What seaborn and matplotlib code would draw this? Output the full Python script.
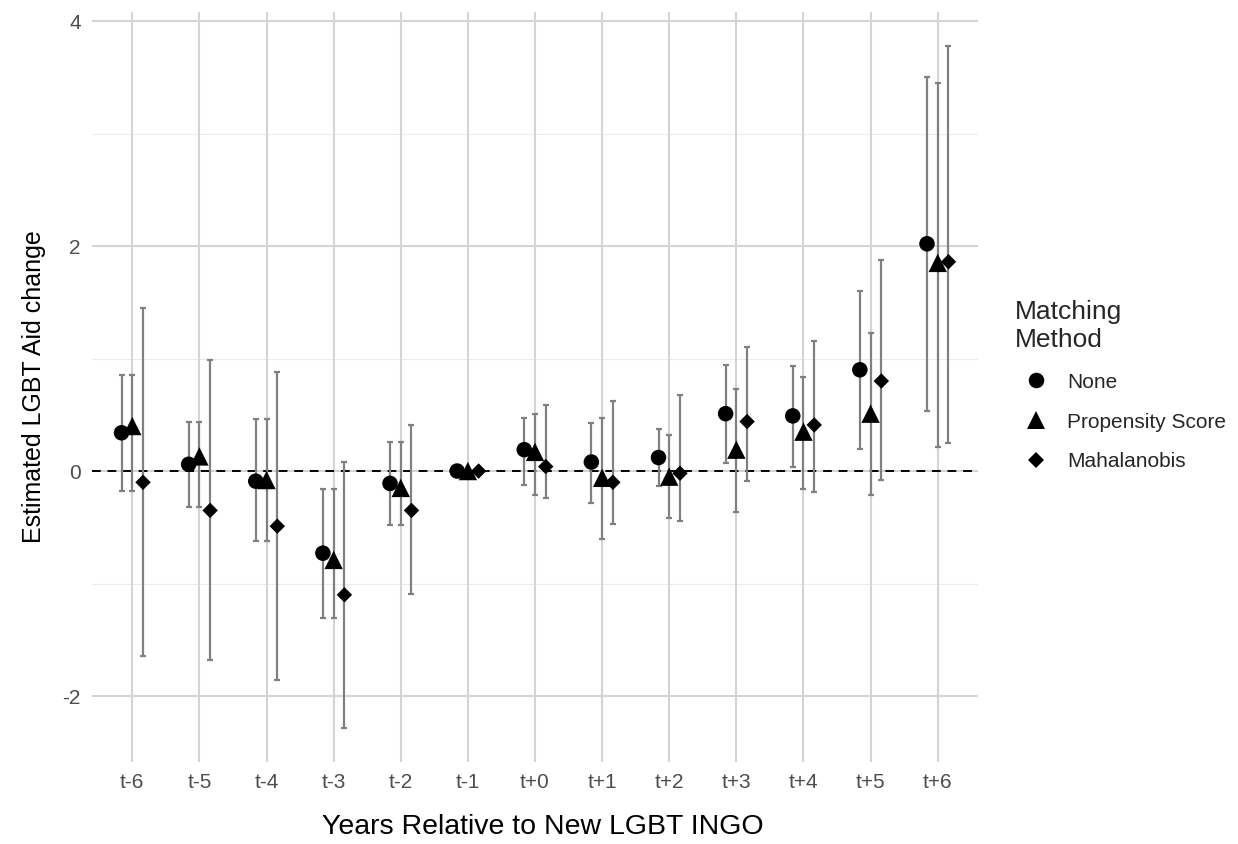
import matplotlib
matplotlib.use("Agg")
import matplotlib.pyplot as plt
import numpy as np
import pandas as pd
import seaborn as sns

periods = ["t-6", "t-5", "t-4", "t-3", "t-2", "t-1",
           "t+0", "t+1", "t+2", "t+3", "t+4", "t+5", "t+6"]
methods = ["None", "Propensity Score", "Mahalanobis"]

none_est = [0.34, 0.06, -0.09, -0.73, -0.11, 0.0, 0.19, 0.08, 0.12, 0.51, 0.49, 0.90, 2.02]
none_lo = [-0.18, -0.32, -0.62, -1.31, -0.48, 0.0, -0.12, -0.28, -0.13, 0.07, 0.04, 0.20, 0.53]
none_hi = [0.85, 0.44, 0.46, -0.16, 0.26, 0.0, 0.47, 0.43, 0.37, 0.94, 0.93, 1.60, 3.50]

ps_est = [0.40, 0.13, -0.08, -0.79, -0.15, 0.0, 0.17, -0.06, -0.05, 0.19, 0.35, 0.51, 1.85]
ps_lo = [-0.18, -0.32, -0.62, -1.31, -0.48, 0.0, -0.21, -0.60, -0.42, -0.36, -0.16, -0.21, 0.21]
ps_hi = [0.85, 0.44, 0.46, -0.16, 0.26, 0.0, 0.51, 0.47, 0.32, 0.73, 0.84, 1.23, 3.45]

mah_est = [-0.10, -0.35, -0.49, -1.10, -0.35, 0.0, 0.04, -0.10, -0.02, 0.44, 0.41, 0.80, 1.86]
mah_lo = [-1.64, -1.68, -1.86, -2.28, -1.09, 0.0, -0.24, -0.47, -0.44, -0.09, -0.19, -0.08, 0.25]
mah_hi = [1.45, 0.99, 0.88, 0.08, 0.41, 0.0, 0.59, 0.62, 0.68, 1.10, 1.16, 1.88, 3.78]

frames = []
for m, est, lo, hi in [
    ("None", none_est, none_lo, none_hi),
    ("Propensity Score", ps_est, ps_lo, ps_hi),
    ("Mahalanobis", mah_est, mah_lo, mah_hi),
]:
    frames.append(pd.DataFrame({"period": periods, "method": m,
                                "est": est, "lo": lo, "hi": hi}))
df = pd.concat(frames, ignore_index=True)

# dodge positions
offsets = {"None": -0.16, "Propensity Score": 0.0, "Mahalanobis": 0.16}
df["xpos"] = df["period"].map({p: i for i, p in enumerate(periods)}) + df["method"].map(offsets)

sns.set_theme(style="white")
plt.rcParams["font.family"] = ["Liberation Sans", "DejaVu Sans"]

fig = plt.figure(figsize=(12.38, 8.44), dpi=100)
ax = fig.add_axes([92 / 1238, 1 - 762 / 844, (978 - 92) / 1238, (762 - 12) / 844])

# grid
for v in [-1, 1, 3]:
    ax.axhline(v, color="#ebebeb", lw=0.8, zorder=0)
for v in [-2, 0, 2, 4]:
    ax.axhline(v, color="#d4d4d4", lw=1.5, zorder=0)
for i in range(len(periods)):
    ax.axvline(i, color="#d4d4d4", lw=1.5, zorder=0)

ax.axhline(0, color="black", lw=1.4, linestyle=(0, (4.5, 3.5)), zorder=1)

ax.errorbar(df["xpos"], df["est"],
            yerr=[df["est"] - df["lo"], df["hi"] - df["est"]],
            fmt="none", ecolor="#808080", elinewidth=1.6,
            capsize=2.2, capthick=1.6, zorder=2)

sns.scatterplot(data=df, x="xpos", y="est", style="method",
                style_order=methods,
                markers={"None": "o", "Propensity Score": "^", "Mahalanobis": "D"},
                size="method", sizes={"None": 125, "Propensity Score": 175, "Mahalanobis": 62},
                color="black", edgecolor="none", linewidth=0, ax=ax, zorder=3)

ax.set_xlim(-0.6, 12.6)
ax.set_ylim(-2.586, 4.08)
ax.set_xticks(range(len(periods)))
ax.set_xticklabels(periods)
ax.set_yticks([-2, 0, 2, 4])
ax.set_yticklabels(["-2", "0", "2", "4"])
ax.tick_params(axis="both", length=0, labelsize=15, labelcolor="#4d4d4d", pad=8)
for s in ax.spines.values():
    s.set_visible(False)
ax.set_xlabel("Years Relative to New LGBT INGO", fontsize=20.5, color="black", labelpad=16)
ax.xaxis.label.set_x(0.509)
ax.set_ylabel("Estimated LGBT Aid change", fontsize=18, color="black", labelpad=12)

handles, labels = ax.get_legend_handles_labels()
hmap = dict(zip(labels, handles))
leg = ax.legend([hmap[m] for m in methods], methods,
                title="Matching\nMethod", loc="center left",
                bbox_to_anchor=(1007 / 1238, 0.543), bbox_transform=fig.transFigure,
                frameon=False, fontsize=15, title_fontsize=19,
                labelspacing=1.0, handletextpad=0.5, borderaxespad=0)
leg._legend_box.align = "left"

fig.savefig("out.png", dpi=100)
